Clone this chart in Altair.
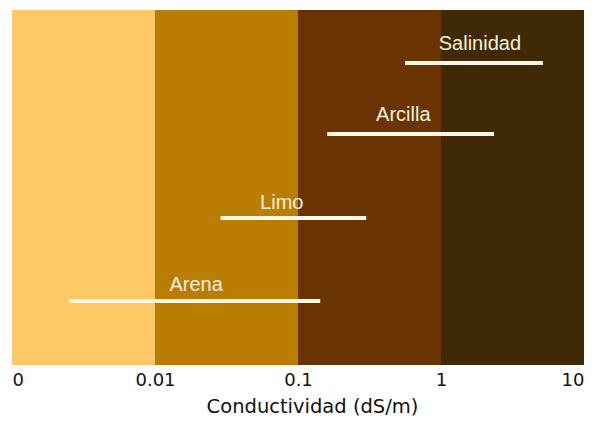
import altair as alt
import pandas as pd

# Bands (conductivity ranges, log scale)
band_start = [0.001, 0.01, 0.1, 1]
band_end = [0.01, 0.1, 1, 10]
band_color = ["#FEC866", "#B97D02", "#6A3402", "#402A05"]

# Ranges
names = ["Salinidad", "Arcilla", "Limo", "Arena"]
range_lo = [0.56, 0.16, 0.0287, 0.0025]
range_hi = [5.16, 2.35, 0.30, 0.143]
row_y = [85.1, 65.1, 41.4, 18.0]
label_x = [1.87, 0.545, 0.077, 0.0194]
label_y = [88.7, 68.7, 43.9, 20.8]

tick_values = [0.001, 0.01, 0.1, 1, 10]

bands = pd.DataFrame({"x": band_start, "x2": band_end, "c": band_color,
                      "y": [0] * 4, "y2": [100] * 4})
ranges = pd.DataFrame({"name": names, "lo": range_lo, "hi": range_hi,
                       "y": row_y, "lx": label_x, "ly": label_y})

xscale = alt.Scale(type="log", domain=[0.001, 10], nice=False, zero=False)
yscale = alt.Scale(domain=[0, 100], nice=False, zero=False)

base_x = alt.X("x:Q", scale=xscale,
               axis=alt.Axis(values=tick_values, title="Conductividad (dS/m)",
                             labelExpr="datum.value <= 0.001 ? '0' : datum.label",
                             format="~g", labelFlush=True, ticks=False, domain=False,
                             grid=False, labelFont="DejaVu Sans", labelFontSize=18,
                             labelColor="#111111", labelPadding=6,
                             titleFont="DejaVu Sans", titleFontSize=19.5,
                             titleFontWeight="normal", titleColor="#111111",
                             titlePadding=8, titleX=300))

rects = alt.Chart(bands).mark_rect().encode(
    x=base_x, x2="x2:Q",
    y=alt.Y("y:Q", scale=yscale, axis=None), y2="y2:Q",
    color=alt.Color("c:N", scale=None),
)

rules = alt.Chart(ranges).mark_rule(color="#FFF6E6", strokeWidth=4).encode(
    x=alt.X("lo:Q", scale=xscale), x2="hi:Q",
    y=alt.Y("y:Q", scale=yscale),
)

labels = alt.Chart(ranges).mark_text(
    color="#F8F0DC", font="Liberation Sans", fontSize=20,
    baseline="alphabetic", align="center"
).encode(
    x=alt.X("lx:Q", scale=xscale),
    y=alt.Y("ly:Q", scale=yscale),
    text="name:N",
)

chart = alt.layer(rects, rules, labels).properties(
    width=572, height=355,
    padding={"left": 4, "top": 2, "right": 0, "bottom": 0},
).configure_view(stroke=None)

chart.save("out.html", embed_options={"renderer": "svg", "actions": False})
